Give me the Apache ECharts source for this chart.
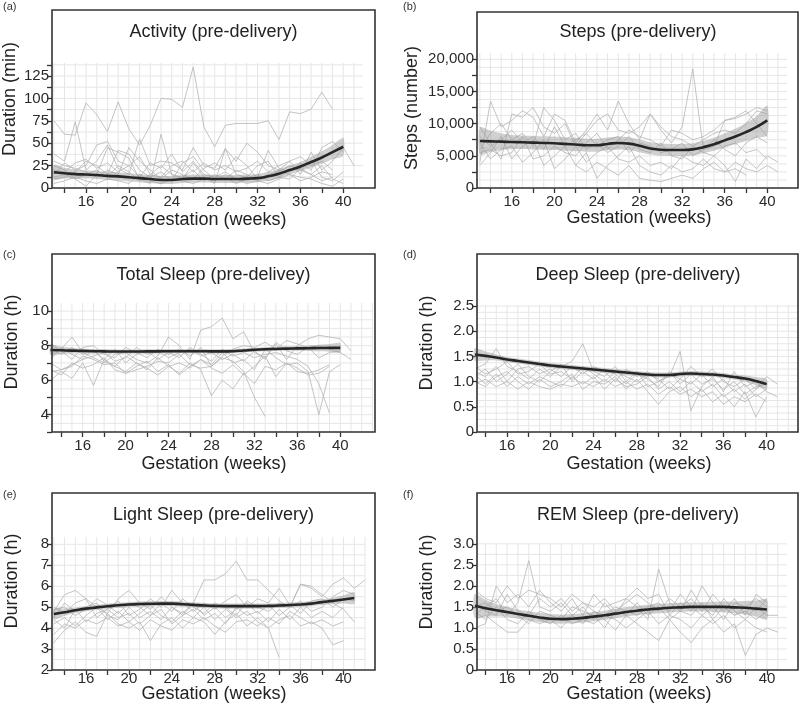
<!DOCTYPE html>
<html><head><meta charset="utf-8">
<script src="https://cdn.jsdelivr.net/npm/echarts@6/dist/echarts.min.js"></script>
<style>html,body{margin:0;padding:0;background:#fff}#c{width:800px;height:714px}</style>
</head><body><div id="c"></div>
<script>
// ---------- DATA ----------
const weeks = [13,14,15,16,17,18,19,20,21,22,23,24,25,26,27,28,29,30,31,32,33,34,35,36,37,38,39,40,41,42];
const smoothWeeks = [13,14,15,16,17,18,19,20,21,22,23,24,25,26,27,28,29,30,31,32,33,34,35,36,37,38,39,40];
const smoothWeeksE = [13,14,15,16,17,18,19,20,21,22,23,24,25,26,27,28,29,30,31,32,33,34,35,36,37,38,39,40,41];

const panelTitles = ['Activity (pre-delivery)','Steps (pre-delivery)','Total Sleep (pre-delivey)','Deep Sleep (pre-delivery)','Light Sleep (pre-delivery)','REM Sleep (pre-delivery)'];
const yNames = ['Duration (min)','Steps (number)','Duration (h)','Duration (h)','Duration (h)','Duration (h)'];
const xName = 'Gestation (weeks)';
const panelTags = ['(a)','(b)','(c)','(d)','(e)','(f)'];
const xTickValues = [14,16,18,20,22,24,26,28,30,32,34,36,38,40];
const xLabelValues = [16,20,24,28,32,36,40];

// (a) Activity (min)
const actTicks = [0,12.5,25,37.5,50,62.5,75,87.5,100,112.5,125,137.5];
const actLabels = [0,25,50,75,100,125];
const actP1 = [75,60,59,95,82,63,96,66,48,70,100,99,90,135,68,46,70,72,72,72,75,54,85,83,88,107,88];
const actP2 = [38,30,74,20,30,48,22,15,55,25,30,28,20,45,25,22,44,30,50,40,25,20,30,15,40,20,30,45,25];
const actP3 = [25,20,10,2,15,45,40,33,10,5,60,15,10,28,12,5,44,15,12,25,30,12,20,22,15,8,12];
const actP4 = [15,28,20,25,48,52,30,25,12,28,22,38,18,30,15,12,18,10,8,12,42,22,18,28,20,45,52,40];
const actP5 = [10,12,18,30,25,15,42,38,20,12,18,8,28,35,20,10,12,5,10,15,8,12,10,22,30,12,8,18];
const actP6 = [30,25,22,18,12,20,15,45,30,20,10,20,15,10,22,28,20,35,25,10,15,18,25,20,15,25,10,5];
const actP7 = [5,8,12,8,5,10,8,5,15,8,5,10,8,5,10,8,15,10,5,8,5,10,15,12,10,5,2,10];
const actP8 = [20,18,28,32,22,28,18,25,35,15,12,25,30,18,28,20,25,18,22,30,18,25,30,35,25,30,20];
const actP9 = [12,15,10,15,20,12,25,18,8,15,25,15,12,20,8,15,10,20,15,8,12,20,15,8,12,18,15];
const actSmooth = [17.5,16.5,15.5,15,14.5,13.5,13,12,11,10,9,9,10,10.5,10.5,10,10,10,10.5,11,13,16,20,24,29,34,40,46];
const actLo = [9.5,10.5,10.5,10.5,10,9,8.5,7.5,6.5,5.5,4.5,4.5,5.5,6,6,5.5,5.5,5.5,6,6.5,8,11,15,19,23,27,32,36];
const actHi = [25.5,22.5,20.5,19.5,19,18,17.5,16.5,15.5,14.5,13.5,13.5,14.5,15,15,14.5,14.5,14.5,15,15.5,18,21,25,29,35,41,48,56];

// (b) Steps
const stepTicks = [0,2500,5000,7500,10000,12500,15000,17500,20000];
const stepLabels = [0,5000,10000,15000,20000];
const stepP1 = [4000,13500,9500,10500,12000,11000,8000,11500,10500,7000,9000,11500,9000,13500,10000,7500,11500,9000,7000,9500,18500,6000,6500,10500,11000,12000,10000,8000];
const stepP2 = [9500,7000,4500,11500,11000,12500,9500,8500,10000,6500,8500,10500,11500,9000,8500,9500,11500,9500,8000,7500,6500,7500,8500,9000,8500,10000,12000,11500];
const stepP3 = [3500,5500,8000,4500,6500,7500,3500,5000,6500,3500,5500,1500,3500,5000,6500,3500,2500,2000,3500,2500,3000,4500,3000,2500,4000,3000,2500,3500,2500];
const stepP4 = [6000,8500,10000,7500,8500,6500,12500,10500,7500,8500,6000,7000,5500,6500,8000,6000,5500,7000,5000,4500,6500,5500,5000,6500,7000,5500,6000,4500];
const stepP5 = [7000,4500,6000,6500,4000,5500,7500,3000,4500,6500,4000,5500,6500,4500,4000,5000,3500,4000,3000,5000,4000,3500,5000,3500,1000,4500,3000,5000,4000];
const stepP6 = [8000,6500,7500,9000,7000,8000,6000,9500,6500,7500,8500,6500,7500,8000,5500,7000,6500,5500,6000,7000,5000,6000,7500,6000,5000,7000,8000,7000];
const stepP7 = [null,null,null,null,null,null,null,null,null,3500,2500,4000,3000,2000,3500,1500,1200,1000,1500,2000,1500,3000,4000,2500,3000,2000];
const stepP8 = [5500,6000,5000,5500,8000,4500,5000,6500,5500,5000,7000,8500,6000,7500,9000,8000,7500,6500,9000,8500,7500,8000,9000,10500,10800,11500,12500,12000];
const stepSmooth = [7300,7250,7200,7150,7100,7050,7000,6950,6850,6750,6650,6650,6850,7000,6900,6550,6150,5950,5900,5900,6000,6350,6800,7400,8000,8700,9500,10500];
const stepLo = [5200,5600,5900,6050,6050,6000,5950,5900,5800,5700,5650,5650,5850,6000,5900,5550,5200,5000,4950,4950,5050,5400,5800,6300,6800,7300,7800,8200];
const stepHi = [9400,8900,8500,8250,8150,8100,8050,8000,7900,7800,7650,7650,7850,8000,7900,7550,7100,6900,6850,6850,6950,7300,7800,8500,9200,10100,11200,12800];

// (c) Total sleep (h)
const totTicks = [3,4,5,6,7,8,9,10];
const totLabels = [4,6,8,10];
const totP1 = [6.0,6.5,6.1,7.0,5.7,7.2,6.8,6.5,7.0,6.7,6.3,6.8,6.4,7.0,6.6,5.1,6.0,5.5,6.4,5.8,6.8,6.6,7.0,6.5,6.4,6.6,6.9];
const totP2 = [7.5,7.8,8.5,7.6,7.3,7.0,7.5,7.6,7.2,7.0,7.4,8.5,8.0,7.2,8.9,9.1,9.6,8.4,8.8,7.6,7.3,8.1,7.2,8.0,8.4,8.6,8.5,8.4,7.7];
const totP3 = [7.0,6.6,6.8,7.4,7.2,6.9,7.0,6.4,6.6,6.8,7.1,7.0,7.5,6.9,6.7,6.8,7.3,7.1,6.5,5.0,3.9];
const totP4 = [6.5,6.6,6.9,7.2,7.8,7.1,6.8,7.4,7.0,6.6,7.3,6.8,7.0,6.7,7.2,6.9,7.6,7.0,7.2,6.6,7.8,7.3,6.9,7.0,6.5,4.0,6.5,6.9];
const totP5 = [7.8,7.5,7.9,7.5,7.7,7.2,7.8,7.0,7.5,7.7,7.2,7.6,7.3,7.9,7.5,7.1,7.8,7.4,7.6,7.3,7.5,7.6,7.4,7.2,6.8,5.8,4.1];
const totP6 = [8.1,7.7,7.2,7.9,8.0,7.5,7.3,7.9,7.6,7.3,7.8,7.5,7.8,7.4,7.9,6.8,7.4,7.8,8.0,7.9,8.2,7.8,8.3,8.1,7.9,8.0,7.8,7.6,7.2];
const totP7 = [6.6,6.3,7.0,6.7,6.9,7.3,6.6,6.4,6.8,7.1,6.5,6.9,6.3,6.8,7.2,6.7,6.4,6.9,6.3,6.8,7.4,6.2,7.0,6.7,6.3,6.4,6.8];
const totP8 = [7.2,7.9,7.5,7.2,7.4,7.6,7.1,7.3,7.9,7.5,7.7,7.3,7.6,7.8,7.4,7.6,7.2,7.5,7.1,7.7,7.2,8.2,7.7,7.5,7.9,7.3,7.6,7.7];
const totSmooth = [7.75,7.73,7.71,7.7,7.68,7.67,7.66,7.66,7.66,7.67,7.67,7.68,7.68,7.68,7.68,7.67,7.67,7.68,7.72,7.76,7.79,7.81,7.83,7.84,7.85,7.86,7.87,7.87];
const totLo = [7.45,7.53,7.55,7.56,7.55,7.54,7.54,7.54,7.54,7.55,7.55,7.56,7.56,7.56,7.56,7.55,7.55,7.56,7.6,7.64,7.67,7.69,7.7,7.7,7.69,7.67,7.65,7.6];
const totHi = [8.05,7.93,7.87,7.84,7.81,7.8,7.78,7.78,7.78,7.79,7.79,7.8,7.8,7.8,7.8,7.79,7.79,7.8,7.84,7.88,7.91,7.93,7.96,7.98,8.01,8.05,8.09,8.14];

// (d) Deep sleep (h)
const deepTicks = [0,0.5,1.0,1.5,2.0,2.5];
const deepLabels = [0,0.5,1.0,1.5,2.0,2.5];
const deepP1 = [1.25,1.35,1.65,1.3,1.2,1.05,1.25,1.1,1.3,1.4,1.75,1.2,1.1,1.3,1.0,1.2,0.9,1.0,1.1,1.6,0.42,0.9,1.1,0.8,1.2,0.9,1.0,0.8,0.7];
const deepP2 = [1.0,0.9,1.1,1.2,1.0,0.85,1.05,0.9,1.0,1.15,0.85,1.0,0.95,1.1,0.85,1.05,0.8,0.55,0.8,0.9,0.7,0.85,0.6,0.75,0.5,0.8,0.3,0.7];
const deepP3 = [1.2,1.1,1.3,1.0,1.25,1.3,1.15,1.25,1.1,1.3,1.15,1.3,1.2,1.0,1.25,1.1,1.2,1.0,1.15,1.05,1.3,1.1,1.25,1.0,0.9,1.05,0.85,1.1,0.95];
const deepP4 = [1.1,1.25,1.0,1.15,1.35,1.1,1.0,1.2,1.35,1.0,1.2,1.05,1.25,1.15,0.95,1.15,1.05,0.9,1.2,0.95,1.15,0.95,1.05,0.85,1.0,0.75,0.9,0.95];
const deepP5 = [0.95,1.05,0.9,1.0,0.85,1.0,0.9,0.85,0.95,0.9,1.0,0.9,1.05,0.9,1.0,0.85,0.95,0.75,0.9,0.75,0.85,0.7,0.8,0.55,0.7,0.6,0.75,0.6];
const deepP6 = [1.3,1.15,1.25,1.4,1.15,1.2,1.35,1.15,1.2,1.05,1.3,1.15,1.0,1.2,1.1,1.0,1.15,1.05,0.85,1.05,0.95,1.15,0.9,1.05,0.8,0.95,0.7,0.85];
const deepP7 = [1.15,0.95,1.15,0.9,1.1,0.95,1.1,1.0,0.9,1.1,0.95,1.1,0.85,1.05,0.9,0.95,1.1,0.85,1.0,0.8,1.0,0.8,0.95,0.7,0.85,0.65,0.85,1.0];
const deepSmooth = [1.54,1.51,1.48,1.44,1.41,1.38,1.35,1.32,1.30,1.28,1.26,1.24,1.22,1.20,1.18,1.16,1.14,1.13,1.13,1.15,1.16,1.15,1.14,1.12,1.09,1.06,1.01,0.95];
const deepLo = [1.42,1.42,1.42,1.39,1.36,1.33,1.30,1.27,1.25,1.23,1.21,1.19,1.17,1.15,1.13,1.11,1.09,1.08,1.08,1.10,1.11,1.10,1.09,1.07,1.04,1.00,0.93,0.85];
const deepHi = [1.66,1.60,1.54,1.49,1.46,1.43,1.40,1.37,1.35,1.33,1.31,1.29,1.27,1.25,1.23,1.21,1.19,1.18,1.18,1.20,1.21,1.20,1.19,1.17,1.14,1.12,1.09,1.05];

// (e) Light sleep (h)
const lightTicks = [2,3,4,5,6,7,8];
const lightLabels = [2,3,4,5,6,7,8];
const lightP1 = [4.8,5.6,5.8,5.4,5.0,4.7,5.4,5.8,5.2,4.9,5.5,5.0,4.6,5.2,6.3,6.3,6.6,7.2,6.3,6.3,5.8,5.3,5.0,6.1,5.9,5.5,6.1,6.4,5.9,6.3];
const lightP2 = [3.3,3.9,4.3,3.8,3.6,4.7,4.2,4.0,4.3,3.4,4.2,4.5,4.0,4.5,4.3,3.7,4.3,4.7,4.1,4.5,4.0,4.4,4.6,4.1,4.3,4.0,3.2,3.4];
const lightP3 = [4.2,4.5,4.1,4.6,5.0,4.4,4.8,4.3,4.7,5.1,4.6,4.3,4.8,4.5,5.0,4.4,4.9,4.5,4.8,4.3,4.0,2.6];
const lightP4 = [5.0,4.7,5.2,5.4,4.5,4.9,5.3,4.6,4.9,5.4,5.0,5.8,5.2,4.8,5.2,4.9,5.3,5.6,5.0,5.4,5.2,5.9,5.1,4.7,5.3,5.4,5.0,5.4,5.3];
const lightP5 = [4.5,5.2,4.8,5.0,5.2,4.6,4.4,5.0,4.5,4.8,4.4,5.0,4.7,5.2,4.6,5.0,4.5,4.9,5.2,4.7,5.1,4.6,5.0,5.3,4.8,5.0,5.5,5.8,5.6];
const lightP6 = [3.7,4.2,4.0,4.4,4.2,4.5,4.1,4.3,3.9,4.4,4.1,3.9,4.4,4.2,4.5,4.1,3.8,4.3,4.4,4.1,4.5,4.2,4.8,4.5,4.2,4.4,4.1,4.3];
const lightP7 = [4.9,5.0,4.6,4.9,5.4,5.1,4.7,5.2,5.0,4.6,5.2,4.8,5.4,5.0,4.7,5.2,5.0,4.6,5.3,5.0,4.8,5.2,5.0,6.1,6.0,5.6,5.2,4.9,4.3];
const lightP8 = [4.4,4.0,4.9,4.3,4.7,4.9,4.5,4.7,4.2,4.6,4.9,4.2,4.6,4.9,4.4,4.7,4.2,5.0,4.6,4.8,4.3,4.9,4.4,5.0,4.5,4.8,4.5,5.0];
const lightSmooth = [4.67,4.76,4.85,4.93,4.99,5.04,5.09,5.13,5.15,5.16,5.17,5.17,5.14,5.11,5.08,5.06,5.05,5.05,5.05,5.05,5.06,5.08,5.10,5.13,5.17,5.24,5.30,5.37,5.44];
const lightLo = [4.42,4.58,4.73,4.81,4.87,4.92,4.97,5.01,5.03,5.04,5.05,5.05,5.02,4.99,4.96,4.94,4.93,4.93,4.93,4.93,4.94,4.96,4.98,5.01,5.05,5.10,5.15,5.17,5.16];
const lightHi = [4.92,4.94,4.97,5.05,5.11,5.16,5.21,5.25,5.27,5.28,5.29,5.29,5.26,5.23,5.20,5.18,5.17,5.17,5.17,5.17,5.18,5.20,5.22,5.25,5.29,5.38,5.45,5.57,5.72];

// (f) REM sleep (h)
const remTicks = [0,0.5,1.0,1.5,2.0,2.5,3.0];
const remLabels = [0,0.5,1.0,1.5,2.0,2.5,3.0];
const remP1 = [1.3,1.5,1.7,1.3,1.6,2.6,1.5,1.4,1.6,1.3,1.5,1.2,1.6,1.3,1.7,1.5,1.2,2.4,1.6,1.4,1.9,1.5,1.3,1.7,1.4,1.2,1.5,1.3,1.3];
const remP2 = [1.0,1.1,2.0,1.6,1.8,1.5,1.9,1.6,1.4,1.7,1.3,1.8,1.5,1.6,1.7,1.95,1.7,1.8,1.3,1.6,1.4,2.0,1.6,1.4,1.7,1.3,1.8,1.6];
const remP3 = [1.2,1.3,1.1,0.9,0.9,1.2,1.1,1.2,1.0,1.3,1.1,1.4,1.2,0.95,1.3,1.1,0.9,0.7,1.2,0.9,0.65,1.0,1.2,0.9,1.1,0.35,0.85,1.0,0.9];
const remP4 = [1.6,1.4,1.3,1.8,1.4,1.3,1.7,1.5,1.7,1.4,1.6,1.4,1.3,1.5,1.4,1.3,1.5,1.6,1.4,1.8,1.5,1.3,1.5,1.2,1.6,1.5,1.7,1.5];
const remP5 = [1.4,1.2,1.5,1.2,1.1,1.4,1.2,1.1,1.3,1.1,1.2,1.1,1.3,1.2,1.0,1.2,1.4,1.1,1.3,1.2,1.0,1.3,1.1,1.3,1.0,1.2,1.0,0.9];
const remP6 = [1.9,1.7,1.6,2.0,1.7,1.9,1.8,1.7,1.5,1.8,1.6,1.5,1.7,1.4,1.6,1.8,1.6,1.4,1.7,1.5,1.7,1.4,1.8,1.5,1.3,1.5,1.4,1.7];
const remP7 = [1.5,1.6,1.4,1.5,1.3,1.1,1.4,1.3,1.2,1.5,1.4,1.3,1.0,1.4,1.3,1.6,1.3,1.5,1.2,1.4,1.3,1.6,1.2,1.5,1.3,1.4,1.2,1.4];
const remSmooth = [1.53,1.47,1.42,1.38,1.33,1.29,1.25,1.22,1.21,1.22,1.24,1.27,1.30,1.34,1.38,1.41,1.44,1.46,1.48,1.49,1.50,1.50,1.50,1.50,1.49,1.48,1.46,1.44];
const remLo = [1.25,1.27,1.27,1.26,1.22,1.18,1.14,1.11,1.10,1.11,1.13,1.16,1.19,1.23,1.27,1.30,1.33,1.35,1.37,1.38,1.39,1.39,1.38,1.37,1.35,1.32,1.27,1.20];
const remHi = [1.81,1.67,1.57,1.50,1.44,1.40,1.36,1.33,1.32,1.33,1.35,1.38,1.41,1.45,1.49,1.52,1.55,1.57,1.59,1.60,1.61,1.61,1.62,1.63,1.63,1.64,1.65,1.68];

// ---------- LAYOUT / STYLE ----------
const FONT = '"Liberation Sans", Arial, sans-serif';
const layout = [
  {box:[52,10,375,188],  grid:[52,63,363,188],   x:[12.83,41.84], y:[0,139.5], yGrid:12.5, xm:6, title:[213.5,32], xname:[214,220], yname:[10,99],  tag:[3,7]},
  {box:[477,12,798,188], grid:[477,53,787,188],  x:[12.73,41.85], y:[0,20980], yGrid:1250, xm:6, title:[638,32],  xname:[639,218], yname:[412,108], tag:[403,7]},
  {box:[52,254,375,432], grid:[52,303,373,432],  x:[13.14,43.05], y:[3,10.47], yGrid:0.5,  xm:6, title:[213.5,275], xname:[214,464], yname:[12,342], tag:[3,255]},
  {box:[477,254,798,432],grid:[477,305,798,432], x:[13.22,42.9],  y:[0,2.52],  yGrid:0.125,xm:6, title:[638,275], xname:[639,464], yname:[427,343], tag:[403,255]},
  {box:[52,493,375,670], grid:[52,537,365,670],  x:[12.83,42.0],  y:[2,8.35],  yGrid:0.5,  xm:1, title:[213.5,515], xname:[214,694], yname:[12,581], tag:[3,495]},
  {box:[477,493,798,670],grid:[477,543,787,670], x:[13.22,41.85], y:[0,3.02],  yGrid:0.25, xm:1, title:[638,515], xname:[639,694], yname:[427,582], tag:[403,495]}
];

const panels = [
  {parts:[actP1,actP2,actP3,actP4,actP5,actP6,actP7,actP8,actP9], sw:smoothWeeks, sm:actSmooth, lo:actLo, hi:actHi, yt:actTicks, yl:actLabels, fmt:v=>String(v)},
  {parts:[stepP1,stepP2,stepP3,stepP4,stepP5,stepP6,stepP7,stepP8], sw:smoothWeeks, sm:stepSmooth, lo:stepLo, hi:stepHi, yt:stepTicks, yl:stepLabels, fmt:v=>v.toLocaleString('en-US')},
  {parts:[totP1,totP2,totP3,totP4,totP5,totP6,totP7,totP8], sw:smoothWeeks, sm:totSmooth, lo:totLo, hi:totHi, yt:totTicks, yl:totLabels, fmt:v=>String(v)},
  {parts:[deepP1,deepP2,deepP3,deepP4,deepP5,deepP6,deepP7], sw:smoothWeeks, sm:deepSmooth, lo:deepLo, hi:deepHi, yt:deepTicks, yl:deepLabels, fmt:v=>v===0?'0':v.toFixed(1)},
  {parts:[lightP1,lightP2,lightP3,lightP4,lightP5,lightP6,lightP7,lightP8], sw:smoothWeeksE, sm:lightSmooth, lo:lightLo, hi:lightHi, yt:lightTicks, yl:lightLabels, fmt:v=>String(v)},
  {parts:[remP1,remP2,remP3,remP4,remP5,remP6,remP7], sw:smoothWeeks, sm:remSmooth, lo:remLo, hi:remHi, yt:remTicks, yl:remLabels, fmt:v=>v===0?'0':v.toFixed(1)}
];

const grids=[], xAxes=[], yAxes=[], series=[], graphic=[];

panels.forEach((p, i) => {
  const L = layout[i];
  const [gl, gt, gr, gb] = L.grid;
  grids.push({left: gl, top: gt, width: gr - gl, height: gb - gt});
  xAxes.push({
    gridIndex: i, type: 'value', min: L.x[0], max: L.x[1],
    axisLine: {show: false}, splitLine: {show: false},
    axisTick: {show: true, length: 5, customValues: xTickValues, lineStyle: {color: '#333', width: 1.3}},
    axisLabel: {customValues: xLabelValues, fontSize: 15, color: '#2a2a2a', fontFamily: FONT, margin: L.xm}
  });
  yAxes.push({
    gridIndex: i, type: 'value', min: L.y[0], max: L.y[1],
    axisLine: {show: false}, splitLine: {show: false},
    axisTick: {show: true, length: 5, customValues: p.yt, lineStyle: {color: '#333', width: 1.3}},
    axisLabel: {customValues: p.yl, fontSize: 15, color: '#2a2a2a', fontFamily: FONT, margin: 3, formatter: p.fmt}
  });

  // light background grid lines (every week, every half tick step)
  const gData = [];
  for (let w = Math.ceil(L.x[0]); w <= L.x[1]; w++) gData.push([w, L.y[0], 0]);
  for (let k = 0; L.y[0] + k * L.yGrid <= L.y[1] + 1e-9; k++) gData.push([L.x[0], L.y[0] + k * L.yGrid, 1]);
  series.push({
    type: 'custom', xAxisIndex: i, yAxisIndex: i, z: 1, silent: true,
    data: gData, encode: {x: 0, y: 1},
    renderItem: (params, api) => {
      const o = api.value(2);
      let a, b;
      if (o === 0) { const w = api.value(0); a = api.coord([w, L.y[0]]); b = api.coord([w, L.y[1]]); }
      else { const v = api.value(1); a = api.coord([L.x[0], v]); b = api.coord([L.x[1], v]); }
      return {type: 'line', shape: {x1: a[0], y1: a[1], x2: b[0], y2: b[1]}, style: {stroke: '#e6e6e6', lineWidth: 1}};
    }
  });

  // individual participant lines
  p.parts.forEach(arr => {
    series.push({
      type: 'line', xAxisIndex: i, yAxisIndex: i, z: 2, silent: true,
      showSymbol: false, symbol: 'none', connectNulls: false,
      lineStyle: {color: '#b5b5b5', width: 1, opacity: 0.8},
      data: arr.map((v, k) => [weeks[k], v === null ? '-' : v])
    });
  });

  // confidence band
  series.push({
    type: 'custom', xAxisIndex: i, yAxisIndex: i, z: 3, silent: true,
    data: p.sw.map((w, k) => [w, p.lo[k], p.hi[k]]), encode: {x: 0, y: [1, 2]},
    renderItem: (params, api) => {
      if (params.dataIndex !== 0) return null;
      const pts = [];
      for (let k = 0; k < p.sw.length; k++) pts.push(api.coord([p.sw[k], p.hi[k]]));
      for (let k = p.sw.length - 1; k >= 0; k--) pts.push(api.coord([p.sw[k], p.lo[k]]));
      return {type: 'polygon', shape: {points: pts, smooth: 0.25}, style: {fill: 'rgba(150,150,150,0.45)'}};
    }
  });

  // smoothed trend
  series.push({
    type: 'line', xAxisIndex: i, yAxisIndex: i, z: 4, silent: true,
    showSymbol: false, symbol: 'none', smooth: true,
    lineStyle: {color: '#262626', width: 2.6},
    data: p.sw.map((w, k) => [w, p.sm[k]])
  });

  // frame, titles
  const [bl, bt, br, bb] = L.box;
  graphic.push({type: 'rect', z: 100, silent: true, shape: {x: bl, y: bt, width: br - bl, height: bb - bt}, style: {fill: null, stroke: '#333', lineWidth: 1.6}});
  graphic.push({type: 'text', z: 100, x: L.title[0], y: L.title[1], style: {text: panelTitles[i], font: '18px ' + FONT, fill: '#222', align: 'center', verticalAlign: 'middle'}});
  graphic.push({type: 'text', z: 100, x: L.xname[0], y: L.xname[1], style: {text: xName, font: '18px ' + FONT, fill: '#222', align: 'center', verticalAlign: 'middle'}});
  graphic.push({type: 'text', z: 100, x: L.yname[0], y: L.yname[1], rotation: Math.PI / 2, style: {text: yNames[i], font: '18px ' + FONT, fill: '#222', align: 'center', verticalAlign: 'middle'}});
  graphic.push({type: 'text', z: 100, x: L.tag[0], y: L.tag[1], style: {text: panelTags[i], font: '11px ' + FONT, fill: '#333', align: 'left', verticalAlign: 'middle'}});
});

const chart = echarts.init(document.getElementById('c'), null, {renderer: 'canvas'});
chart.setOption({
  animation: false,
  backgroundColor: '#fff',
  grid: grids, xAxis: xAxes, yAxis: yAxes, series: series, graphic: graphic
});
</script>
</body></html>
